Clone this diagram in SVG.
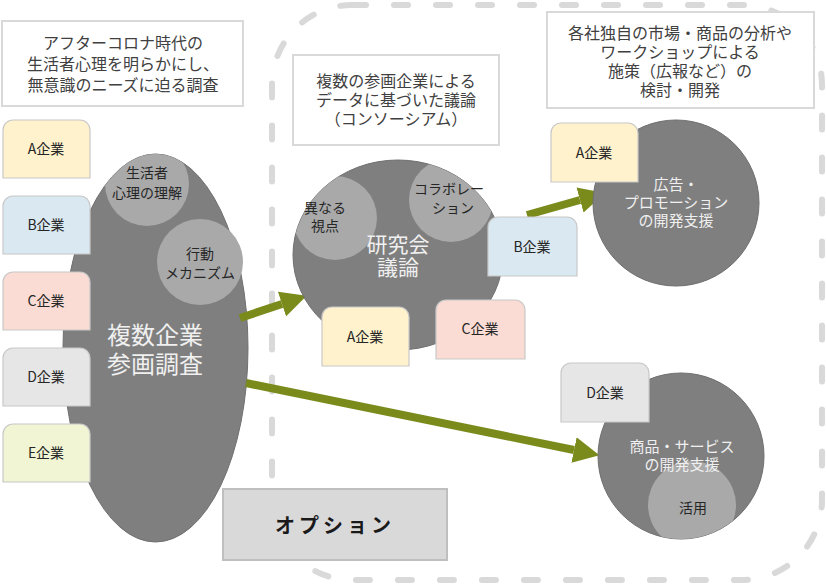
<svg xmlns="http://www.w3.org/2000/svg" width="826" height="586" viewBox="0 0 826 586">
<style>
text{font-family:"Noto Sans CJK JP","Liberation Sans",sans-serif;text-anchor:middle;dominant-baseline:central}
.note{fill:#fff;stroke:#d9d9d9;stroke-width:2}
.nt{font-size:16px;fill:#404040}
.co{stroke:#c8c8c8;stroke-width:1.2}
.ct{font-size:14px;fill:#262626}
.big{fill:#7f7f7f;stroke:#6f6f6f;stroke-width:1}
.sm{fill:#a9a9a9}
.wt{fill:#f0f0f0}
.arr{stroke:#7a8b1c;stroke-width:8;fill:none;marker-end:url(#ah)}
</style>
<defs>
<marker id="ah" markerUnits="userSpaceOnUse" markerWidth="26" markerHeight="26" refX="0" refY="13" orient="auto" viewBox="0 0 26 26">
<path d="M0,0 L26,13 L0,26 z" fill="#7a8b1c"/>
</marker>
<clipPath id="cpE"><ellipse cx="155.5" cy="348" rx="92.5" ry="194"/></clipPath>
<clipPath id="cpK"><ellipse cx="398" cy="255" rx="105" ry="95"/></clipPath>
<clipPath id="cpD"><circle cx="681" cy="456" r="83"/></clipPath>
</defs>

<rect id="option-area" x="272" y="5" width="550" height="575" rx="80" fill="none" stroke="#d9d9d9" stroke-width="6" stroke-linecap="round" stroke-dasharray="14 28"/>

<g id="note-left">
<rect class="note" x="2" y="21" width="241" height="85"/>
<text class="nt" x="123" y="42">アフターコロナ時代の</text>
<text class="nt" x="123" y="63">生活者心理を明らかにし、</text>
<text class="nt" x="123" y="84">無意識のニーズに迫る調査</text>
</g>

<g id="note-mid">
<rect class="note" x="293" y="55" width="206" height="90"/>
<text class="nt" x="396" y="80">複数の参画企業による</text>
<text class="nt" x="396" y="99">データに基づいた議論</text>
<text class="nt" x="396" y="118">（コンソーシアム）</text>
</g>

<g id="note-right">
<rect class="note" x="547" y="12" width="267" height="96"/>
<text class="nt" x="680" y="32">各社独自の市場・商品の分析や</text>
<text class="nt" x="680" y="51">ワークショップによる</text>
<text class="nt" x="680" y="70">施策（広報など）の</text>
<text class="nt" x="680" y="89">検討・開発</text>
</g>

<g id="survey">
<ellipse class="big" cx="155.5" cy="348" rx="92.5" ry="194"/>
<circle class="sm" cx="147" cy="184" r="42" clip-path="url(#cpE)"/>
<text class="ct" x="147" y="172">生活者</text>
<text class="ct" x="147" y="192">心理の理解</text>
<circle class="sm" cx="200" cy="262" r="43"/>
<text class="ct" x="200" y="253">行動</text>
<text class="ct" x="200" y="272">メカニズム</text>
<text class="wt" x="155" y="333" font-size="24">複数企業</text>
<text class="wt" x="155" y="362" font-size="24">参画調査</text>
</g>

<g id="connectors">
<line class="arr" x1="240" y1="318" x2="282" y2="304"/>
<line class="arr" x1="527" y1="215" x2="580" y2="200"/>
<line class="arr" x1="246" y1="383" x2="574" y2="450"/>
</g>

<g id="left-a"><path class="co" d="M3,178 V130 a10,10 0 0 1 10,-10 H80 a10,10 0 0 1 10,10 V178 z" fill="#fff2cc"/><text class="ct" x="46" y="148">A企業</text></g>
<g id="left-b"><path class="co" d="M3,254 V206 a10,10 0 0 1 10,-10 H80 a10,10 0 0 1 10,10 V254 z" fill="#dae8f1"/><text class="ct" x="46" y="224">B企業</text></g>
<g id="left-c"><path class="co" d="M3,330 V282 a10,10 0 0 1 10,-10 H80 a10,10 0 0 1 10,10 V330 z" fill="#fadcd4"/><text class="ct" x="46" y="300">C企業</text></g>
<g id="left-d"><path class="co" d="M3,406 V358 a10,10 0 0 1 10,-10 H80 a10,10 0 0 1 10,10 V406 z" fill="#e6e6e6"/><text class="ct" x="46" y="376">D企業</text></g>
<g id="left-e"><path class="co" d="M3,482 V434 a10,10 0 0 1 10,-10 H80 a10,10 0 0 1 10,10 V482 z" fill="#f1f5d3"/><text class="ct" x="46" y="452">E企業</text></g>

<g id="study">
<ellipse class="big" cx="398" cy="255" rx="105" ry="95"/>
<circle class="sm" cx="335" cy="218" r="42" clip-path="url(#cpK)"/>
<text class="ct" x="325" y="207">異なる</text>
<text class="ct" x="325" y="225">視点</text>
<circle class="sm" cx="451" cy="200" r="42" clip-path="url(#cpK)"/>
<text class="ct" x="449" y="188">コラボレー</text>
<text class="ct" x="453" y="207">ション</text>
<text class="wt" x="398" y="243" font-size="21">研究会</text>
<text class="wt" x="398" y="266" font-size="21">議論</text>
</g>

<g id="mid-a"><path class="co" d="M322,366 V317 a10,10 0 0 1 10,-10 H399 a10,10 0 0 1 10,10 V366 z" fill="#fff2cc"/><text class="ct" x="365" y="336">A企業</text></g>
<g id="mid-c"><path class="co" d="M436,359 V310 a10,10 0 0 1 10,-10 H515 a10,10 0 0 1 10,10 V359 z" fill="#fadcd4"/><text class="ct" x="480" y="328">C企業</text></g>
<g id="mid-b"><path class="co" d="M488,276 V227 a10,10 0 0 1 10,-10 H567 a10,10 0 0 1 10,10 V276 z" fill="#dae8f1"/><text class="ct" x="532" y="246">B企業</text></g>

<g id="promo">
<circle class="big" cx="676" cy="203" r="83"/>
<text class="wt" x="676" y="183" font-size="15">広告・</text>
<text class="wt" x="676" y="201" font-size="15">プロモーション</text>
<text class="wt" x="676" y="219" font-size="15">の開発支援</text>
</g>
<g id="right-a"><path class="co" d="M551,182 V133 a10,10 0 0 1 10,-10 H628 a10,10 0 0 1 10,10 V182 z" fill="#fff2cc"/><text class="ct" x="594" y="152">A企業</text></g>

<g id="product">
<circle class="big" cx="681" cy="456" r="83"/>
<circle class="sm" cx="692" cy="505" r="44" clip-path="url(#cpD)"/>
<text class="ct" x="693" y="507">活用</text>
<text class="wt" x="682" y="445" font-size="15">商品・サービス</text>
<text class="wt" x="682" y="463" font-size="15">の開発支援</text>
</g>
<g id="right-d"><path class="co" d="M561,422 V373 a10,10 0 0 1 10,-10 H639 a10,10 0 0 1 10,10 V422 z" fill="#e6e6e6"/><text class="ct" x="605" y="392">D企業</text></g>

<g id="option">
<rect x="223" y="489" width="224" height="71" fill="#d9d9d9" stroke="#bfbfbf" stroke-width="2"/>
<text x="335" y="524" font-size="20" font-weight="bold" fill="#1a1a1a" letter-spacing="4">オプション</text>
</g>
</svg>
